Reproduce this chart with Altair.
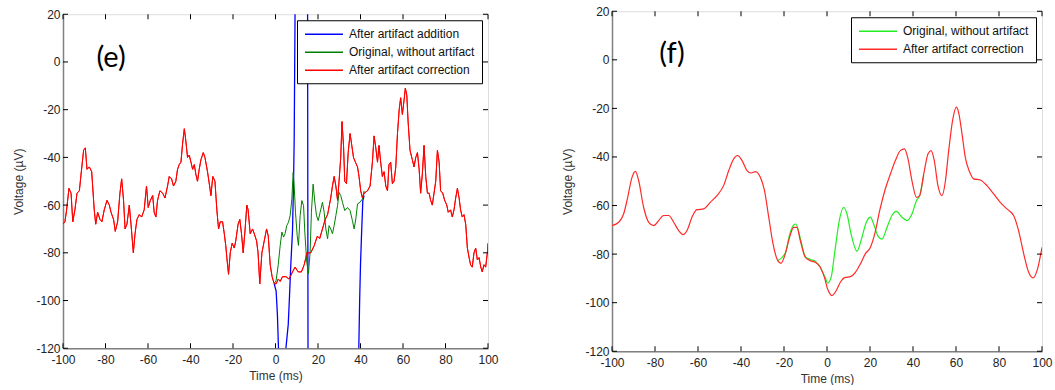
import altair as alt
import pandas as pd

# ---------------- data ----------------
X_TICKS = [-100, -80, -60, -40, -20, 0, 20, 40, 60, 80, 100]
Y_TICKS = [-120, -100, -80, -60, -40, -20, 0, 20]

# Panel (e)
E_RED_T = [-100, -99.1, -98.3, -97.2, -96.2, -95.4, -94.4, -93.4, -92.3, -91.5,
           -90.3, -89.5, -88.7, -87.6, -86.5, -85.3, -84.6, -83.7, -82.6, -81.7,
           -80.6, -79.3, -78.2, -77.4, -76.2, -75.4, -74.3, -73.2, -72.4, -71.5,
           -70.8, -69.9, -68.8, -68.0, -66.9, -66.1, -65.2, -64.1, -63.0, -61.8,
           -60.7, -59.9, -58.9, -57.8, -57.1, -56.3, -55.5, -54.4, -53.1, -52.0,
           -50.8, -50.0, -48.9, -48.0, -46.9, -46.1, -45.3, -44.5, -43.7, -42.9,
           -42.2, -41.4, -40.6, -39.8, -39.0, -38.2, -37.5, -36.7, -35.9, -35.1,
           -34.0, -33.2, -32.0, -31.0, -30.4, -29.5, -28.5, -27.6, -26.8, -26.0,
           -24.9, -24.1, -23.4, -22.9, -22.1, -21.3, -20.4, -19.4, -18.7, -17.6,
           -16.8, -16.0, -15.2, -14.3, -13.5, -12.9, -11.9, -10.8, -10.0, -8.9,
           -8.2, -7.4, -6.4, -5.3, -4.2, -3.4, -2.5, -1.6, -0.6, 0.3,
           1.3, 2.2, 3.3, 4.9, 6.4, 8.0, 9.2, 10.7, 12.2, 13.5,
           14.3, 14.7, 16.6, 18.2, 19.7, 20.8, 22.1, 23.4, 24.5, 26.0,
           26.8, 27.6, 28.4, 29.2, 29.9, 30.7, 31.3, 32.0, 32.6, 33.4,
           34.2, 35.1, 35.9, 36.7, 37.6, 38.6, 39.3, 40.1, 40.9, 41.7,
           43.3, 44.5, 45.6, 46.4, 47.2, 48.0, 48.7, 49.5, 50.3, 51.1,
           51.9, 52.7, 53.4, 54.2, 55.0, 55.8, 56.6, 57.4, 58.2, 58.9,
           59.7, 60.5, 61.1, 61.8, 62.4, 63.3, 64.4, 65.2, 66.0, 66.8,
           67.6, 68.3, 69.1, 69.9, 70.7, 71.5, 72.3, 73.0, 73.8, 74.6,
           75.4, 76.2, 77.0, 77.7, 78.7, 79.6, 80.6, 81.3, 82.4, 83.2,
           84.0, 84.8, 85.6, 86.4, 87.1, 87.9, 88.7, 89.5, 90.3, 91.1,
           91.8, 92.6, 93.4, 94.2, 95.0, 95.8, 96.6, 97.3, 98.1, 98.9,
           99.7, 100]
E_RED_V = [-68, -67, -62, -53, -55, -67, -62, -55, -54, -47,
           -37, -36, -45, -44, -46, -62, -68, -63, -66, -67,
           -62, -58, -60, -63, -66, -71, -67, -55, -49, -58,
           -70, -68, -60, -68, -80, -72, -66, -64, -65, -62,
           -52, -61, -58, -56, -63, -65, -58, -54, -55, -57,
           -52, -48, -49, -52, -50, -45, -43, -42, -34, -28,
           -33, -40, -39, -42, -45, -43, -47, -50, -45, -41,
           -38, -40, -46, -52, -56, -48, -50, -62, -70, -67,
           -67, -72, -77, -82, -89, -80, -76, -78, -75, -68,
           -66, -72, -80, -70, -60, -62, -72, -70, -72, -75,
           -80, -93, -80, -75, -70, -73, -85, -90, -93, -93,
           -91, -92, -90, -90, -91, -88, -86, -88, -88, -85,
           -82, -80, -80, -77, -73, -74, -70, -66, -64, -57,
           -52, -48, -52, -58, -50, -40, -25, -35, -50, -51,
           -38, -30, -35, -40, -42, -44, -48, -54, -57, -55,
           -54, -52, -42, -31, -36, -42, -35, -42, -48, -46,
           -52, -54, -43, -42, -51, -50, -44, -30, -20, -15,
           -22, -16, -11, -14, -25, -37, -41, -44, -40, -38,
           -45, -55, -47, -35, -48, -55, -55, -58, -60, -55,
           -50, -37, -42, -54, -55, -58, -60, -63, -62, -65,
           -62, -57, -53, -57, -62, -65, -64, -68, -78, -82,
           -85, -86, -80, -78, -83, -82, -86, -88, -85, -86,
           -80, -76]

E_GREEN_T = [-0.6, 0.3, 1.3, 2.2, 3.0, 3.8, 4.5, 5.3, 6.1, 6.9, 7.7,
             8.3, 8.8, 9.4, 10.2, 10.8, 11.6, 12.4, 13.2, 13.8, 14.7,
             15.5, 16.3, 16.9, 17.7, 18.5, 19.3, 20.1, 21.0, 22.1, 22.9,
             23.7, 24.5, 25.2, 26.0, 26.8, 27.6, 28.4, 29.2, 29.9, 30.7,
             31.5, 32.6, 33.9, 35.1, 36.2, 37.0, 37.8, 38.6, 39.8, 40.9,
             41.7]
E_GREEN_V = [-93, -91.5, -85, -77, -71.3, -73.4, -72, -68.6, -67.2, -64.4, -57.4,
             -46.3, -51.9, -63, -72.7, -76.9, -64.4, -58.1, -60.2, -71.3, -83.9,
             -88.7, -79.7, -63, -51.2, -58.8, -64.4, -66.5, -63, -58.8, -63,
             -70, -74.1, -68.6, -70, -72, -68.6, -64.4, -60.2, -54.7, -56,
             -58.8, -62.3, -61, -62.3, -66.5, -70, -65.8, -59.5, -58.8, -57.4,
             -54]

E_BLUE_T = [-0.6, 0.3, 0.9, 1.4, 3.0, 4.9, 6.0, 6.6, 7.2, 8.0, 8.5, 8.8,
            9.2, 12.0, 15.1, 15.3, 28.0, 39.2, 39.6, 40.0, 40.5, 41.1, 41.7]
E_BLUE_V = [-93, -96, -106, -120, -150, -120, -110, -98, -85, -71, -50, -32,
            20, 60, 20, -120, -200, -120, -100, -85, -72, -58, -56]

# Panel (f)
F_RED_T = [-100, -96.9, -94.6, -92.7, -90.7, -89.1, -87.6, -85.3, -82.9, -80.6,
           -78.3, -76.0, -73.6, -71.3, -69.0, -67.0, -65.1, -62.8, -60.5, -57.4,
           -54.3, -51.2, -48.1, -45.7, -43.4, -41.6, -39.5, -37.2, -35.3, -33.3,
           -31.0, -29.1, -27.1, -25.1, -22.9, -21.4, -19.4, -17.4, -15.5, -14.0,
           -12.4, -10.1, -7.8, -5.4, -3.1, -1.2, 0.3, 2.3, 4.3, 6.2,
           8.5, 10.9, 13.2, 15.5, 17.8, 20.2, 22.2, 24.5, 27.1, 29.5,
           31.8, 34.1, 36.0, 37.5, 39.5, 41.6, 43.1, 45.0, 47.0, 48.4,
           49.9, 51.6, 53.5, 55.0, 56.6, 58.4, 60.2, 61.2, 62.8, 64.3,
           66.4, 68.2, 71.3, 74.4, 77.5, 80.6, 83.7, 86.8, 89.1, 91.5,
           93.8, 95.8, 97.7, 100]
F_RED_V = [-68.3, -66.9, -63.5, -56.6, -48.4, -45.9, -49.7, -60.7, -66.9, -68.3,
           -66.2, -64.1, -64.1, -66.9, -70.3, -72, -70.3, -64.8, -61.7, -61.4,
           -58.7, -55.9, -51.8, -45.6, -40.8, -39.4, -41.5, -45.6, -46.6, -46,
           -48.4, -53.8, -64.8, -75.8, -82.7, -83.8, -79.9, -73.1, -69, -69,
           -74.5, -81.3, -82.7, -83.4, -85.4, -89.6, -94.4, -97.1, -95, -91.6,
           -89.6, -89.3, -87.5, -84.1, -79.9, -77.2, -71.7, -62.1, -53.2, -47,
           -41.5, -37.4, -36.7, -40.1, -49.7, -56.6, -55.9, -47, -38.7, -37.4,
           -41.5, -51.8, -55.9, -50.4, -37.4, -25, -19.5, -21.6, -30.5, -40.1,
           -46.3, -49, -49.5, -51.8, -55.2, -58.7, -61.4, -64.1, -70.3, -79.9,
           -87.5, -89.8, -86.8, -77.2]

F_GREEN_T = [-22.9, -19.4, -17.4, -15.5, -14.5, -12.4, -10.1, -7.8, -5.4, -3.1,
             -2.3, -0.8, 0.3, 1.9, 3.9, 5.7, 7.8, 9.3, 11.2, 14.0,
             15.8, 18.3, 20.2, 21.7, 23.6, 25.6, 27.9, 30.2, 32.2, 34.9,
             37.2, 39.5, 41.6, 43.1, 45.0]
F_GREEN_V = [-82.7, -79.5, -72, -68, -67.6, -73.5, -81, -82.2, -83, -85.4,
             -87, -89.6, -92, -89.6, -77.2, -66.2, -60.7, -63.5, -71.7, -78.8,
             -74.5, -66.9, -64.8, -67.6, -72.4, -73.8, -69, -64.1, -62.4, -64.8,
             -66.2, -63.5, -58, -55.9, -47.5]

S_ADD = "After artifact addition"
S_ORIG = "Original, without artifact"
S_CORR = "After artifact correction"

FONT = "Liberation Sans"

xscale = alt.Scale(domain=[-100, 100], nice=False, zero=False)
yscale = alt.Scale(domain=[-120, 20], nice=False, zero=False)

xaxis = alt.Axis(values=X_TICKS, title="Time (ms)", ticks=False, grid=False,
                 labelExpr="'' + datum.value", labelFontSize=12, labelColor="#222",
                 labelPadding=6, titleFontSize=12, titleFontWeight="normal",
                 titleColor="#333", titlePadding=5, labelFont=FONT, titleFont=FONT,
                 domainColor="#808080", domainWidth=1.5, labelFlush=False)
yaxis = alt.Axis(values=Y_TICKS, title="Voltage (µV)", ticks=False, grid=False,
                 labelExpr="'' + datum.value", labelFontSize=12, labelColor="#222",
                 labelPadding=3, titleFontSize=12, titleFontWeight="normal",
                 titleColor="#333", titlePadding=8, labelFont=FONT, titleFont=FONT,
                 domainColor="#808080", domainWidth=1.5, minExtent=30, maxExtent=30,
                 labelFlush=False)

# long horizontal stroke symbol, extending to the right of a compact symbol box
LEGEND = alt.Legend(title=None, orient="top-right", offset=6,
                    symbolType="M-1,0H5.33", symbolSize=144,
                    symbolStrokeWidth=1.5, labelFontSize=12,
                    labelFont=FONT, labelColor="#111",
                    strokeColor="black", fillColor="white",
                    padding=7, rowPadding=5, labelOffset=31,
                    cornerRadius=0)


def series_layer(ts, vs, name, scale, width=1.0, interp="linear"):
    df = pd.DataFrame({"t": ts, "v": vs, "series": [name] * len(ts)})
    return alt.Chart(df).mark_line(clip=True, strokeWidth=width,
                                   interpolate=interp).encode(
        x=alt.X("t:Q", scale=xscale, axis=xaxis),
        y=alt.Y("v:Q", scale=yscale, axis=yaxis),
        color=alt.Color("series:N", scale=scale, legend=LEGEND),
    )


def tick_layers(W, H):
    xt = pd.DataFrame({"t": X_TICKS})
    yt = pd.DataFrame({"v": Y_TICKS})
    tl = 5
    layers = []
    for y0, y1 in [(H, H - tl), (0, tl)]:
        layers.append(alt.Chart(xt).mark_rule(color="black", strokeWidth=1).encode(
            x=alt.X("t:Q", scale=xscale, axis=xaxis),
            y=alt.value(y0), y2=alt.value(y1)))
    for x0, x1 in [(0, tl), (W - tl, W)]:
        layers.append(alt.Chart(yt).mark_rule(color="black", strokeWidth=1).encode(
            y=alt.Y("v:Q", scale=yscale, axis=yaxis),
            x=alt.value(x0), x2=alt.value(x1)))
    return layers


def label_layer(txt, px, py):
    return alt.Chart(pd.DataFrame({"label": [txt]})).mark_text(
        font="Lato", fontSize=29, color="black", align="center", baseline="middle"
    ).encode(text="label:N", x=alt.value(px), y=alt.value(py))


# Panel (e)
WE, HE = 425, 334
scale_e = alt.Scale(domain=[S_ADD, S_ORIG, S_CORR], range=["#0000ff", "#008000", "#ff0000"])
panel_e = alt.layer(
    series_layer(E_RED_T, E_RED_V, S_CORR, scale_e),
    series_layer(E_BLUE_T, E_BLUE_V, S_ADD, scale_e, width=1.3),
    series_layer(E_GREEN_T, E_GREEN_V, S_ORIG, scale_e),
    series_layer(E_RED_T, E_RED_V, S_CORR, scale_e),
    *tick_layers(WE, HE),
    label_layer("(e)", 48, 44),
).properties(width=WE, height=HE)

# Panel (f)
WF, HF = 430, 340
scale_f = alt.Scale(domain=[S_ORIG, S_CORR], range=["#22ee22", "#ff2a2a"])
panel_f = alt.layer(
    series_layer(F_GREEN_T, F_GREEN_V, S_ORIG, scale_f, width=1.2, interp="monotone"),
    series_layer(F_RED_T, F_RED_V, S_CORR, scale_f, width=1.2, interp="monotone"),
    *tick_layers(WF, HF),
    label_layer("(f)", 60, 43),
).properties(width=WF, height=HF)

chart = alt.hconcat(panel_e, panel_f, spacing=61, center=True).resolve_scale(
    color="independent"
).properties(
    padding={"left": 11, "top": 4, "right": 0, "bottom": 0}
).configure_view(stroke="black", strokeWidth=1).configure(background="white")

chart.save("out.html", embed_options={"renderer": "svg", "actions": False})
